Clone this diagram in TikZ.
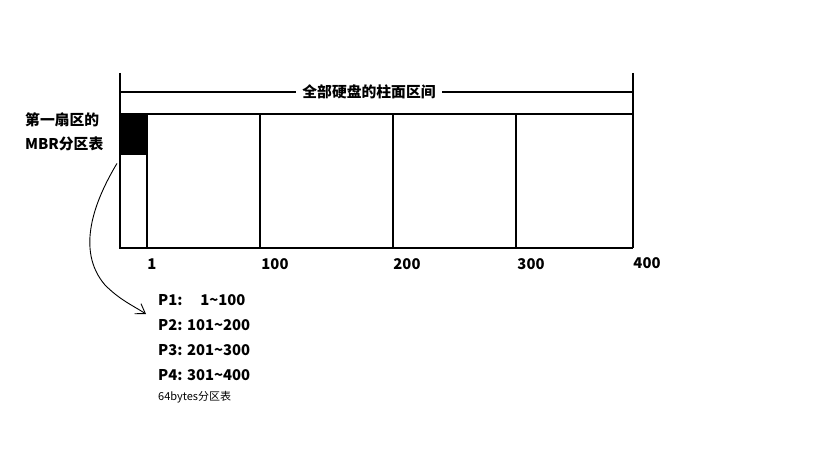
\documentclass[tikz,border=0pt]{standalone}
\usepackage{fontspec}
\setmainfont{Noto Sans CJK SC}
\usetikzlibrary{arrows.meta}
\tikzset{
  thick line/.style={line width=2.8pt},
  lbl/.style={font=\fontsize{14.8}{16}\selectfont\bfseries, inner sep=0pt},
  small/.style={font=\fontsize{11}{12}\selectfont, inner sep=0pt},
}
\begin{document}
\begin{tikzpicture}[x=1pt,y=-1pt]
\useasboundingbox (0,0) rectangle (819,460);
% black block (MBR)
\node[fill=black, minimum width=27pt, minimum height=41pt, inner sep=0pt, anchor=north west] (mbr) at (120,114) {};
% disk outline
\draw[thick line] (120,73) -- (120,248) -- (633,248);
\draw[thick line] (633,73) -- (633,248);
\draw[thick line] (120,114) -- (633,114);
\draw[thick line] (147,114) -- (147,248);
\draw[thick line] (260,114) -- (260,248);
\draw[thick line] (393,114) -- (393,248);
\draw[thick line] (516,114) -- (516,248);
% dimension bar
\draw[thick line] (120,92) -- (633,92);
\node[lbl, fill=white, inner xsep=6pt, inner ysep=2pt] (title) at (369,92) {全部硬盘的柱面区间};
% tick labels
\node[lbl] (t1) at (152,264) {1};
\node[lbl] (t100) at (275,264) {100};
\node[lbl] (t200) at (407,264) {200};
\node[lbl] (t300) at (531,264) {300};
\node[lbl] (t400) at (647,263) {400};
% left label
\node[lbl, anchor=west] (l1) at (25,120) {第一扇区的};
\node[lbl, anchor=west] (l2) at (25,144) {MBR分区表};
% partition table
\node[lbl, anchor=west] (p1) at (158,300) {P1:\hspace{1.2em}1\char`~100};
\node[lbl, anchor=west] (p2) at (158,325) {P2: 101\char`~200};
\node[lbl, anchor=west] (p3) at (158,350) {P3: 201\char`~300};
\node[lbl, anchor=west] (p4) at (158,375) {P4: 301\char`~400};
\node[small, anchor=west] (p5) at (158,397) {64bytes分区表};
% curved arrow
\coordinate (arrEnd) at (146,314);
\draw[line width=0.9pt, -{Straight Barb[length=9pt,width=12pt]}] ([xshift=-3pt,yshift=-8pt]mbr.south west)
  .. controls (95,200) and (75,250) .. (105,285)
  .. controls (120,300) and (132,305) .. (arrEnd);
\end{tikzpicture}
\end{document}
